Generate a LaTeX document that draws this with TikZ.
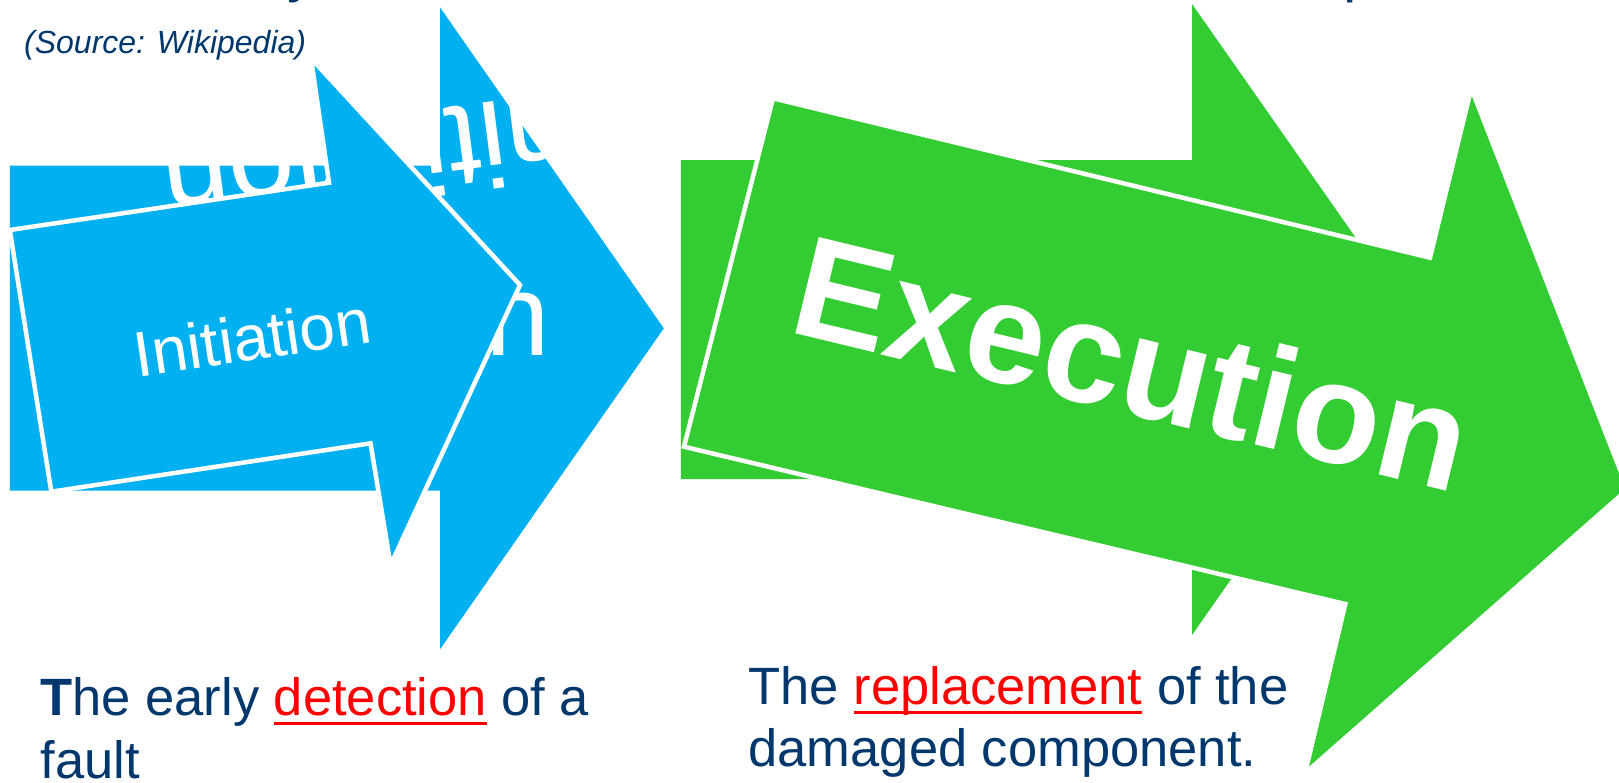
\documentclass[tikz,border=0pt]{standalone}
\usepackage{fontspec}
\setmainfont{Liberation Sans}
\definecolor{arrowblue}{RGB}{0,176,240}
\definecolor{arrowgreen}{RGB}{51,204,51}
\definecolor{navytext}{RGB}{0,55,108}
\definecolor{keyred}{RGB}{255,0,0}
% underline drawn as a rule just below the baseline
\newcommand\keyword[1]{\setbox0\hbox{#1}\rlap{\rule[-10pt]{\wd0}{3pt}}\box0}
\begin{document}
\begin{tikzpicture}[x=1pt,y=-1pt,
  plainarrow/.style={fill=#1},
  framedarrow/.style={fill=#1,draw=white,line width=4.5pt,line join=miter},
  label/.style={inner sep=0pt,outer sep=0pt,text=white},
  bodytext/.style={inner sep=0pt,outer sep=0pt,text=navytext,anchor=base west,
    font=\fontsize{52.5}{63}\selectfont}]
\useasboundingbox (0,0) rectangle (1619,782);
\clip (0,0) rectangle (1619,782);
\fill[white] (0,0) rectangle (1619,782);

% ---- Initiation: upright block arrow ----
\path[plainarrow=arrowblue] (9.8,165.7) -- (440,165.7) -- (440,7.3) -- (663.8,328.3)
  -- (440,649.3) -- (440,490.7) -- (9.8,490.7) -- cycle;
\node[label,anchor=base,font=\fontsize{116}{139}\selectfont] (initbig) at (334,355) {Initiation};
\node[label,anchor=base west,rotate=187.4,font=\fontsize{120}{144}\selectfont] (initflip) at (601,88) {Initiation};

% ---- Initiation: tilted block arrow on top ----
\path[framedarrow=arrowblue] (9.8,230) -- (329,182.7) -- (311,58.3) -- (520,285)
  -- (390.6,565) -- (370.5,443.3) -- (51.3,491.7) -- cycle;
\node[label,anchor=base,rotate=8.4,font=\fontsize{64}{77}\selectfont] (inittilt) at (255.5,360) {Initiation};

% ---- Execution: upright block arrow ----
\path[plainarrow=arrowgreen] (680.9,160) -- (1192,160) -- (1192,4) -- (1413,319.5)
  -- (1192,635) -- (1192,479) -- (680.9,479) -- cycle;

% ---- Execution: tilted block arrow on top ----
\path[framedarrow=arrowgreen] (773,98.3) -- (1430,257.7) -- (1471.3,88.3) -- (1627.7,489.3)
  -- (1305,773.3) -- (1345.3,604) -- (684,446.7) -- cycle;
\node[label,anchor=base,rotate=-13.6,font=\bfseries\fontsize{144}{172}\selectfont] (exectilt) at (1121,412.4) {Execution};

% ---- captions ----
\node[inner sep=0pt,anchor=base west,text=navytext,font=\itshape\fontsize{32}{38}\selectfont] (source) at (24,53.3) {(Source: Wikipedia)};
\node[inner sep=0pt,anchor=base west,text=navytext,font=\fontsize{60}{72}\selectfont] (titlecutA) at (287,-10) {y};
\node[inner sep=0pt,anchor=base west,text=navytext,font=\fontsize{60}{72}\selectfont] (titlecutB) at (1343,-10) {p};

\node[bodytext] (initdescA) at (40.5,715) {\textbf{T}he early \textcolor{keyred}{\keyword{detection}} of a};
\node[bodytext] (initdescB) at (40.5,778) {fault};
\node[bodytext] (execdescA) at (748.5,704) {The \textcolor{keyred}{\keyword{replacement}} of the};
\node[bodytext] (execdescB) at (748.5,766) {damaged component.};
\end{tikzpicture}
\end{document}
